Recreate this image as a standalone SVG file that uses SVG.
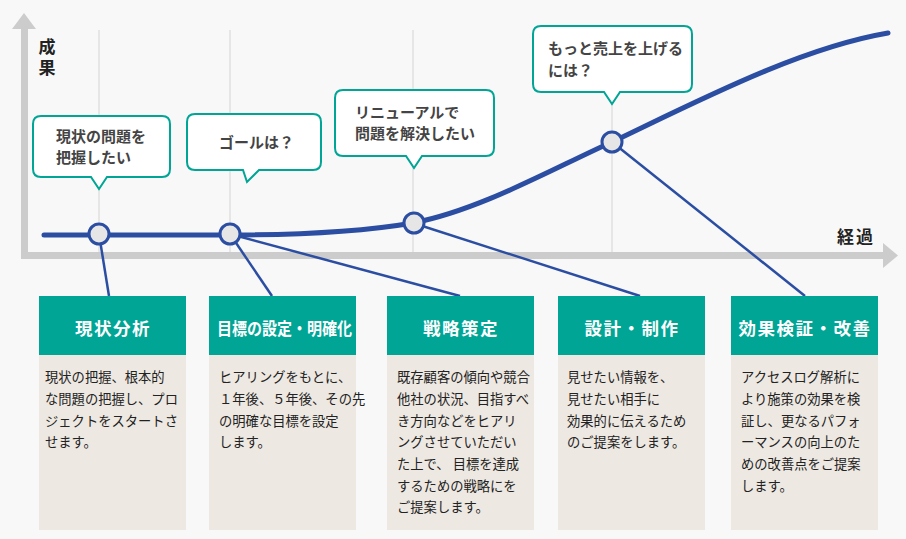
<svg xmlns="http://www.w3.org/2000/svg" width="906" height="539" viewBox="0 0 906 539">
<style>
text{font-family:"Noto Sans CJK JP","Noto Sans",sans-serif}
.grid{stroke:#d4d4d4;stroke-width:1;fill:none}
.axis{fill:#cccccc}
.lbl{font-size:17px;font-weight:bold;fill:#222}
.bub{fill:#ffffff;stroke:#00a595;stroke-width:2}
.btx{font-size:15px;font-weight:bold;fill:#444}
.hd{fill:#00a595}
.bd{fill:#ede8e1}
.htx{font-size:17.5px;font-weight:bold;fill:#ffffff;text-anchor:middle;letter-spacing:1.5px}
.tx{font-size:13.3px;fill:#222}
.curve{fill:none;stroke:#2b4ea2;stroke-width:5;stroke-linecap:round}
.con{fill:none;stroke:#2b4ea2;stroke-width:2.5}
.dot{fill:#e6e6e6;stroke:#2b4ea2;stroke-width:3}
</style>
<rect width="906" height="539" fill="#f8f8f8"/>
<g id="grid">
<line class="grid" x1="99" y1="30" x2="99" y2="252"/>
<line class="grid" x1="230" y1="30" x2="230" y2="252"/>
<line class="grid" x1="413" y1="30" x2="413" y2="252"/>
<line class="grid" x1="612" y1="30" x2="612" y2="252"/>
</g>
<g id="axes">
<rect class="axis" x="21" y="29" width="7" height="230"/>
<polygon class="axis" points="24,13 36,29 12,29"/>
<rect class="axis" x="21" y="252" width="862" height="7"/>
<polygon class="axis" points="898,255.5 883,243 883,268"/>
<text class="lbl" x="47" y="38" style="writing-mode:vertical-rl;letter-spacing:4px">成果</text>
<text class="lbl" x="837" y="243" letter-spacing="2">経過</text>
</g>
<g id="connectors">
<line class="con" x1="99" y1="234" x2="109" y2="296"/>
<line class="con" x1="230" y1="234" x2="272" y2="296"/>
<line class="con" x1="230" y1="234" x2="460" y2="296"/>
<line class="con" x1="413" y1="223" x2="640" y2="296"/>
<line class="con" x1="612" y1="142" x2="805" y2="296"/>
<path class="curve" d="M44,235 L230,235 C300,235 360,232 413,223 C480,210 550,170 612,142 C700,100 800,48 888,33"/>
</g>
<g id="points">
<circle class="dot" cx="99" cy="234" r="10"/>
<circle class="dot" cx="230" cy="234" r="10"/>
<circle class="dot" cx="414" cy="223" r="10"/>
<circle class="dot" cx="612" cy="142" r="10"/>
</g>
<g id="bubble1">
<path class="bub" d="M41,116 H162 Q170,116 170,124 V169 Q170,177 162,177 H107 L99,189 L91,177 H41 Q33,177 33,169 V124 Q33,116 41,116 Z"/>
<text class="btx" x="56" y="141.5">現状の問題を</text>
<text class="btx" x="56" y="162.5">把握したい</text>
</g>
<g id="bubble2">
<path class="bub" d="M195,114 H313 Q321,114 321,122 V162 Q321,170 313,170 H259 L247,182 L243,170 H195 Q187,170 187,162 V122 Q187,114 195,114 Z"/>
<text class="btx" x="219" y="147.5">ゴールは？</text>
</g>
<g id="bubble3">
<path class="bub" d="M343,90 H486 Q494,90 494,98 V148 Q494,156 486,156 H422 L414,168 L406,156 H343 Q335,156 335,148 V98 Q335,90 343,90 Z"/>
<text class="btx" x="355" y="117.5">リニューアルで</text>
<text class="btx" x="355" y="138.5">問題を解決したい</text>
</g>
<g id="bubble4">
<path class="bub" d="M541,26 H684 Q692,26 692,34 V84 Q692,92 684,92 H620 L612,104 L604,92 H541 Q533,92 533,84 V34 Q533,26 541,26 Z"/>
<text class="btx" x="548" y="53.5">もっと売上を上げる</text>
<text class="btx" x="548" y="75.5">には？</text>
</g>
<g id="box1">
<rect class="hd" x="39" y="296" width="147" height="59"/>
<rect class="bd" x="39" y="355" width="147" height="175"/>
<text class="htx" x="113" y="334.5">現状分析</text>
<text class="tx" x="45"><tspan x="45" y="382">現状の把握、根本的</tspan><tspan x="45" y="404">な問題の把握し、プロ</tspan><tspan x="45" y="425.5">ジェクトをスタートさ</tspan><tspan x="45" y="447">せます。</tspan></text>
</g>
<g id="box2">
<rect class="hd" x="209" y="296" width="147" height="59"/>
<rect class="bd" x="209" y="355" width="147" height="175"/>
<text class="htx" x="217" y="334.5" style="text-anchor:start;letter-spacing:0" textLength="135" lengthAdjust="spacingAndGlyphs">目標の設定・明確化</text>
<text class="tx" x="219"><tspan x="219" y="382">ヒアリングをもとに、</tspan><tspan x="219" y="404">１年後、５年後、その先</tspan><tspan x="219" y="425.5">の明確な目標を設定</tspan><tspan x="219" y="447">します。</tspan></text>
</g>
<g id="box3">
<rect class="hd" x="387" y="296" width="147" height="59"/>
<rect class="bd" x="387" y="355" width="147" height="175"/>
<text class="htx" x="461" y="334.5">戦略策定</text>
<text class="tx" x="397"><tspan x="397" y="382">既存顧客の傾向や競合</tspan><tspan x="397" y="404">他社の状況、目指すべ</tspan><tspan x="397" y="425.5">き方向などをヒアリ</tspan><tspan x="397" y="447">ングさせていただい</tspan><tspan x="397" y="469">た上で、 目標を達成</tspan><tspan x="397" y="490.5">するための戦略にを</tspan><tspan x="397" y="512">ご提案します。</tspan></text>
</g>
<g id="box4">
<rect class="hd" x="558" y="296" width="147" height="59"/>
<rect class="bd" x="558" y="355" width="147" height="175"/>
<text class="htx" x="632" y="334.5">設計・制作</text>
<text class="tx" x="567"><tspan x="567" y="382">見せたい情報を、</tspan><tspan x="567" y="404">見せたい相手に</tspan><tspan x="567" y="425.5">効果的に伝えるため</tspan><tspan x="567" y="447">のご提案をします。</tspan></text>
</g>
<g id="box5">
<rect class="hd" x="731" y="296" width="147" height="59"/>
<rect class="bd" x="731" y="355" width="147" height="175"/>
<text class="htx" x="805" y="334.5">効果検証・改善</text>
<text class="tx" x="741"><tspan x="741" y="382">アクセスログ解析に</tspan><tspan x="741" y="404">より施策の効果を検</tspan><tspan x="741" y="425.5">証し、更なるパフォ</tspan><tspan x="741" y="447">ーマンスの向上のた</tspan><tspan x="741" y="469">めの改善点をご提案</tspan><tspan x="741" y="490.5">します。</tspan></text>
</g>
</svg>
